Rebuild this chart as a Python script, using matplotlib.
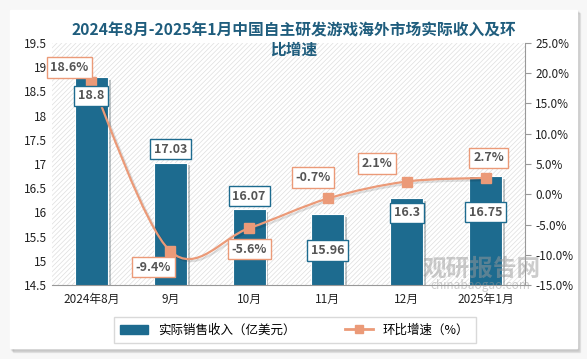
import matplotlib.pyplot as plt
from matplotlib.patches import Rectangle, Path, PathPatch
import matplotlib.patheffects as pe
from matplotlib.lines import Line2D
from matplotlib.patches import Patch

plt.rcParams['font.family'] = ['Noto Sans CJK SC', 'DejaVu Sans']
plt.rcParams['hatch.linewidth'] = 0.5

months = ["2024年8月", "9月", "10月", "11月", "12月", "2025年1月"]
revenue = [18.8, 17.03, 16.07, 15.96, 16.3, 16.75]
growth = [18.6, -9.4, -5.6, -0.7, 2.1, 2.7]

bar_c = "#1d6b8f"
line_c = "#eb9a78"

W, H = 587, 359
fig = plt.figure(figsize=(W / 100, H / 100), dpi=100, facecolor="#f7f7f7")

# card with soft shadow
for i, a in enumerate([0.05, 0.05, 0.06]):
    fig.patches.append(Rectangle(((10 + 1 + i) / W, (H - 349 - 1 - i) / H), 567 / W, 339 / H,
                                 transform=fig.transFigure, color="black", alpha=a, zorder=0))
fig.patches.append(Rectangle((10 / W, (H - 348) / H), 567 / W, 338 / H,
                             transform=fig.transFigure, color="white", zorder=0))

ax = fig.add_axes([52 / W, (H - 285) / H, (525 - 52) / W, (285 - 43) / H])
ax.set_zorder(1)
x = list(range(len(months)))

# hatched background
ax.add_patch(Rectangle((0, 0), 1, 1, transform=ax.transAxes, facecolor="white",
                       edgecolor="#dedede", hatch="///////", lw=0, zorder=0))

ax.bar(x, revenue, width=0.42, color=bar_c, edgecolor="white", lw=0.8, zorder=2,
       path_effects=[pe.SimplePatchShadow(offset=(2, -2), alpha=0.25), pe.Normal()])
ax.set_ylim(14.5, 19.5)
ax.set_xlim(-0.5, 5.5)
ax.set_yticks([14.5 + 0.5 * i for i in range(11)])
ax.set_yticklabels(["14.5", "15", "15.5", "16", "16.5", "17", "17.5", "18", "18.5", "19", "19.5"])
ax.set_xticks(x)
ax.set_xticklabels(months)
ax.tick_params(axis="both", length=0, labelsize=8.5, colors="#222222")
ax.tick_params(axis="x", pad=6)
for s in ["top", "right", "left"]:
    ax.spines[s].set_visible(False)
ax.spines["bottom"].set_color("#999999")

ax2 = ax.twinx()
ax2.set_ylim(-15, 25)
ax2.set_yticks(range(-15, 26, 5))
ax2.set_yticklabels([f"{v:.1f}%" for v in range(-15, 26, 5)])
ax2.tick_params(axis="y", labelsize=8.5, colors="#222222", length=4, direction="out")
ax2.tick_params(axis="y", color="#999999")
for s in ["top", "left", "bottom"]:
    ax2.spines[s].set_visible(False)
ax2.spines["right"].set_color("#999999")

# smooth line (Bezier through points, Excel-like)
t = 1 / 6
verts = [(x[0], growth[0])]
codes = [Path.MOVETO]
n = len(x)
for i in range(n - 1):
    p0 = (x[i - 1], growth[i - 1]) if i > 0 else (x[i], growth[i])
    p1 = (x[i], growth[i])
    p2 = (x[i + 1], growth[i + 1])
    p3 = (x[i + 2], growth[i + 2]) if i + 2 < n else p2
    c1 = (p1[0] + (p2[0] - p0[0]) * t, p1[1] + (p2[1] - p0[1]) * t)
    c2 = (p2[0] - (p3[0] - p1[0]) * t, p2[1] - (p3[1] - p1[1]) * t)
    verts += [c1, c2, p2]
    codes += [Path.CURVE4] * 3
ax2.add_patch(PathPatch(Path(verts, codes), facecolor="none", edgecolor=line_c, lw=1.6, zorder=3,
                        path_effects=[pe.SimpleLineShadow(offset=(1.5, -1.5), alpha=0.12), pe.Normal()]))
ax2.plot(x, growth, ls="none", marker="s", ms=6.5, color=line_c, zorder=4)

# labels (all on ax2 so they sit above the line)
bar_off = [-19, 13.5, 13, -36, -15, -36]
for xi, v, dy in zip(x, revenue, bar_off):
    ax2.annotate(f"{v:g}", (xi, v), xycoords=ax.transData, xytext=(0, dy),
                 textcoords="offset pixels", ha="center", va="center", fontsize=9,
                 fontweight="bold", color="#555555", zorder=6,
                 bbox=dict(boxstyle="square,pad=0.3", fc="white", ec=bar_c, lw=1))
line_off = [(-22, 14), (-17, -16), (0, -21), (-15, 21), (-30, 18), (3, 20)]
for xi, v, (dx, dy) in zip(x, growth, line_off):
    ax2.annotate(f"{v:.1f}%", (xi, v), xytext=(dx, dy), textcoords="offset pixels", ha="center",
                 va="center", fontsize=9, fontweight="bold", color="#555555", zorder=6,
                 bbox=dict(boxstyle="square,pad=0.3", fc="white", ec=line_c, lw=1))

fig.text(294 / W, 1 - 40 / H, "2024年8月-2025年1月中国自主研发游戏海外市场实际收入及环\n比增速",
         ha="center", va="center", fontsize=11.3, fontweight="bold", color="#1f5d7d",
         linespacing=1.25, zorder=5)

# legend
handles = [Patch(color=bar_c), Line2D([], [], color=line_c, lw=2, marker="s", ms=6)]
leg = fig.legend(handles, ["实际销售收入（亿美元）", "环比增速（%）"], loc="center",
                 bbox_to_anchor=(295 / W, 1 - 330 / H), ncol=2, frameon=True, fancybox=False,
                 fontsize=9, handlelength=2.2, columnspacing=4, borderpad=0.5)
leg.get_frame().set_edgecolor("#d0d0d0")
leg.get_frame().set_linewidth(1)

# watermark
fig.text(482 / W, 1 - 269 / H, "观研报告网", fontsize=17, fontweight="bold", color="#9a9a9a",
         alpha=0.5, ha="center", va="center", zorder=5)
fig.text(480 / W, 1 - 286 / H, "chinabaogao.com", fontsize=8.5, color="#9a9a9a",
         alpha=0.5, ha="center", va="center", zorder=5)

fig.savefig("out.png", dpi=100, facecolor=fig.get_facecolor())
